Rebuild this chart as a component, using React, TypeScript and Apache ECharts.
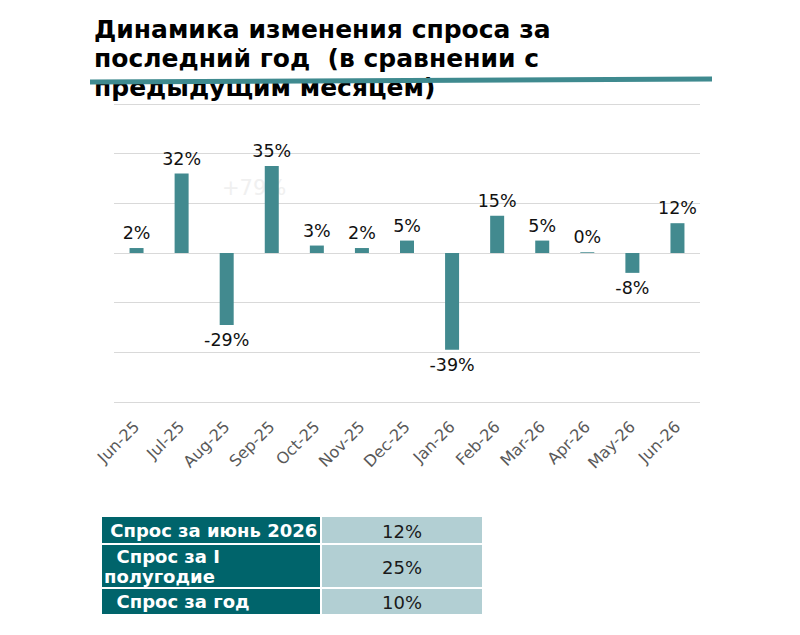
import { useEffect, useRef } from 'react'
import * as echarts from 'echarts'

const months = ['Jun-25', 'Jul-25', 'Aug-25', 'Sep-25', 'Oct-25', 'Nov-25', 'Dec-25', 'Jan-26', 'Feb-26', 'Mar-26', 'Apr-26', 'May-26', 'Jun-26']
const changes = [2, 32, -29, 35, 3, 2, 5, -39, 15, 5, 0.3, -8, 12]

const tableLabels = [' Спрос за июнь 2026', '  Спрос за I\nполугодие', '  Спрос за год']
const tableValues = ['12%', '25%', '10%']

const titleText = 'Динамика изменения спроса за\nпоследний год  (в сравнении с\nпредыдущим месяцем)'
const ghostText = '+79%'

const BAR = '#428a8f'
const FONT = 'DejaVu Sans'

export default function App() {
  const chartRef = useRef<HTMLDivElement>(null)

  useEffect(() => {
    if (!chartRef.current) return
    const chart = echarts.init(chartRef.current, null, { renderer: 'svg' })

    // table rows: top y and height
    const rows = [
      { y: 517, h: 26 },
      { y: 545, h: 42 },
      { y: 589, h: 25 },
    ]
    const tableGraphics: any[] = []
    rows.forEach((r, i) => {
      tableGraphics.push({
        type: 'rect',
        shape: { x: 102, y: r.y, width: 218, height: r.h },
        style: { fill: '#00646b' },
      })
      tableGraphics.push({
        type: 'rect',
        shape: { x: 322, y: r.y, width: 160, height: r.h },
        style: { fill: '#b2cfd3' },
      })
      tableGraphics.push({
        type: 'text',
        x: 104,
        y: r.y + r.h / 2,
        style: {
          text: tableLabels[i],
          fill: '#ffffff',
          font: `bold 18px "${FONT}"`,
          textVerticalAlign: 'middle',
          lineHeight: 20,
        },
      })
      tableGraphics.push({
        type: 'text',
        x: 402,
        y: r.y + r.h / 2 + 1,
        style: {
          text: tableValues[i],
          fill: '#1a1a1a',
          font: `18px "${FONT}"`,
          textAlign: 'center',
          textVerticalAlign: 'middle',
        },
      })
    })

    chart.setOption({
      animation: false,
      textStyle: { fontFamily: FONT },
      grid: { left: 114, right: 100, top: 104, bottom: 233, containLabel: false },
      xAxis: {
        type: 'category',
        data: months,
        position: 'bottom',
        axisLine: { show: false },
        axisTick: { show: false },
        axisLabel: { rotate: 45, color: '#595959', fontSize: 16, margin: 22 },
      },
      yAxis: {
        type: 'value',
        min: -60,
        max: 60,
        interval: 20,
        axisLabel: { show: false },
        axisLine: { show: false },
        axisTick: { show: false },
        splitLine: { lineStyle: { color: '#d9d9d9', width: 1 } },
      },
      graphic: [
        {
          type: 'text',
          x: 94,
          y: 15,
          z: 10,
          style: {
            text: titleText,
            fill: '#000000',
            font: `bold 25px "${FONT}"`,
            lineHeight: 29,
          },
        },
        {
          type: 'line',
          z: 20,
          shape: { x1: 90, y1: 82, x2: 712, y2: 79 },
          style: { stroke: '#3f8a8f', lineWidth: 5 },
        },
        {
          type: 'text',
          x: 222,
          y: 177,
          z: -1,
          style: {
            text: ghostText,
            fill: '#f0f0f0',
            font: `21px "${FONT}"`,
          },
        },
        ...tableGraphics,
      ],
      series: [
        {
          type: 'bar',
          data: changes.map((v) => ({
            value: v,
            label: { position: v < 0 ? 'bottom' : 'top' },
          })),
          barWidth: 14,
          itemStyle: { color: BAR },
          label: {
            show: true,
            distance: 6,
            color: '#111111',
            fontSize: 17.5,
            formatter: (p: any) => `${Math.round(p.value)}%`,
          },
        },
      ],
    })

    return () => {
      chart.dispose()
    }
  }, [])

  return (
    <div style={{ position: 'absolute', left: 0, top: 0, width: 800, height: 635, background: '#fff' }}>
      <div ref={chartRef} style={{ width: '800px', height: '635px' }}></div>
    </div>
  )
}
